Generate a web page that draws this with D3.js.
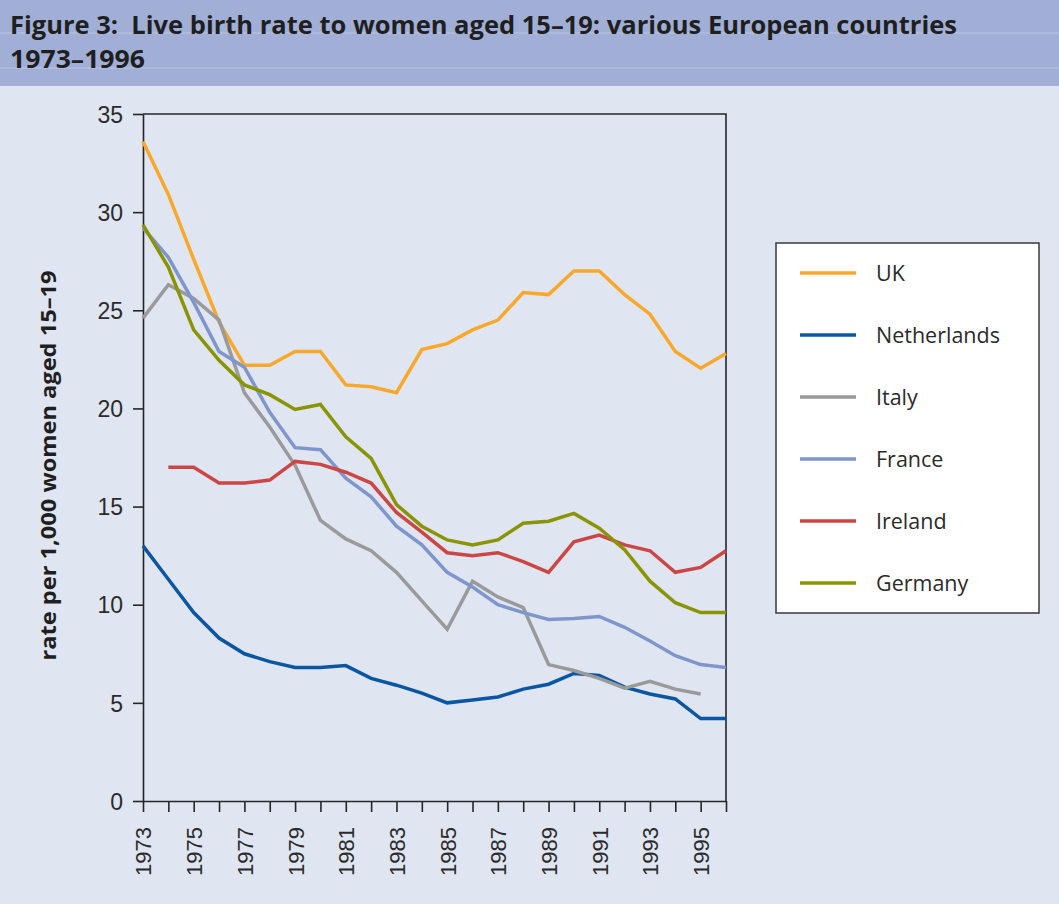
<!DOCTYPE html>
<html lang="en">
<head>
    <meta charset="UTF-8">
    <title>Figure 3: Live birth rate to women aged 15-19</title>
    <script src="https://d3js.org/d3.v7.min.js"></script>
    <style type="text/css">
        body { margin: 0; background: #dfe5f1; }
        svg { display: block; font-family: "Open Sans", "DejaVu Sans", sans-serif; }
        .tick text { fill: #2b2b2b; font-size: 23px; }
        .xaxis .tick text { font-size: 22px; }
        .tick line, .domain { stroke: #262626; stroke-width: 1.6px; }
    </style>
</head>
<body>
<script type="text/javascript">

    // values
    const years = d3.range(1973, 1997);
    const uk          = [33.6, 30.9, 27.6, 24.4, 22.2, 22.2, 22.9, 22.9, 21.2, 21.1, 20.8, 23.0, 23.3, 24.0, 24.5, 25.9, 25.8, 27.0, 27.0, 25.8, 24.8, 22.9, 22.05, 22.8];
    const netherlands = [13.0, 11.3, 9.6, 8.3, 7.5, 7.1, 6.8, 6.8, 6.9, 6.25, 5.9, 5.5, 5.0, 5.15, 5.3, 5.7, 5.95, 6.5, 6.4, 5.8, 5.45, 5.2, 4.2, 4.2];
    const italy       = [24.6, 26.3, 25.6, 24.5, 20.8, 19.05, 17.1, 14.3, 13.35, 12.75, 11.65, 10.2, 8.75, 11.2, 10.4, 9.85, 6.95, 6.65, 6.25, 5.75, 6.1, 5.7, 5.45, null];
    const france      = [29.2, 27.7, 25.4, 22.9, 22.1, 19.8, 18.0, 17.9, 16.45, 15.5, 14.0, 13.05, 11.65, 10.9, 10.0, 9.6, 9.25, 9.3, 9.4, 8.85, 8.15, 7.4, 6.95, 6.8];
    const ireland     = [null, 17.0, 17.0, 16.2, 16.2, 16.35, 17.3, 17.15, 16.75, 16.2, 14.7, 13.7, 12.65, 12.5, 12.65, 12.2, 11.65, 13.2, 13.55, 13.05, 12.75, 11.65, 11.9, 12.75];
    const germany     = [29.35, 27.2, 24.0, 22.45, 21.2, 20.7, 19.95, 20.2, 18.55, 17.45, 15.1, 14.0, 13.3, 13.05, 13.3, 14.15, 14.25, 14.65, 13.9, 12.8, 11.2, 10.1, 9.6, 9.6];

    const countries = ["UK", "Netherlands", "Italy", "France", "Ireland", "Germany"];
    const colours = ["#f9a82b", "#0b56a1", "#9a9a9a", "#7f96cc", "#cc4646", "#8a9300"];
    const values = [uk, netherlands, italy, france, ireland, germany];
    const yTicks = [0, 5, 10, 15, 20, 25, 30, 35];

    const width = 1059, height = 904;
    const svg = d3.select("body").append("svg")
        .attr("width", width)
        .attr("height", height);

    // title bar
    svg.append("rect")
        .attr("x", 0).attr("y", 0)
        .attr("width", width).attr("height", 86)
        .attr("fill", "#a1afd7");
    [33, 68].forEach(yy => svg.append("line")
        .attr("x1", 0).attr("x2", width)
        .attr("y1", yy).attr("y2", yy)
        .attr("stroke", "#b9c4e3").attr("stroke-width", 1));
    svg.append("text")
        .attr("x", 10).attr("y", 34)
        .attr("textLength", 947).attr("lengthAdjust", "spacingAndGlyphs")
        .style("font-size", "25px").style("font-weight", "bold").attr("fill", "#1f1f1f")
        .text("Figure 3:\u00a0 Live birth rate to women aged 15\u201319: various European countries");
    svg.append("text")
        .attr("x", 10).attr("y", 68)
        .attr("textLength", 135).attr("lengthAdjust", "spacingAndGlyphs")
        .style("font-size", "25px").style("font-weight", "bold").attr("fill", "#1f1f1f")
        .text("1973\u20131996");

    const x = d3.scaleLinear().domain([1973, 1996]).range([143, 726]);
    const y = d3.scaleLinear().domain([0, 35]).range([801, 114]);

    // frame top and right
    svg.append("path")
        .attr("d", `M${x(1973)},${y(35)}H${x(1996)}V${y(0)}`)
        .attr("fill", "none").attr("stroke", "#262626").attr("stroke-width", 1.6);

    svg.append("g")
        .attr("transform", `translate(${x(1973)},0)`)
        .call(d3.axisLeft(y).tickValues(yTicks).tickSize(10).tickSizeOuter(0).tickPadding(10))
        .call(g => g.selectAll(".tick text").attr("dy", "0.36em"));

    svg.append("g")
        .attr("class", "xaxis")
        .attr("transform", `translate(0,${y(0)})`)
        .call(d3.axisBottom(x).tickValues(years).tickSize(11).tickSizeOuter(0)
            .tickFormat(d => d % 2 === 1 ? d : ""))
        .call(g => g.selectAll(".tick text")
            .attr("transform", "rotate(-90)")
            .attr("text-anchor", "end")
            .attr("x", -26).attr("y", 0).attr("dy", "0.36em"));

    svg.append("text")
        .attr("transform", `translate(56,${(y(0) + y(35)) / 2 + 8}) rotate(-90)`)
        .attr("text-anchor", "middle")
        .attr("textLength", 390).attr("lengthAdjust", "spacingAndGlyphs")
        .style("font-size", "21px").style("font-weight", "bold").attr("fill", "#1f1f1f")
        .text("rate per 1,000 women aged 15\u201319");

    const line = d3.line()
        .defined(d => d.v !== null)
        .x(d => x(d.year))
        .y(d => y(d.v));

    values.forEach((vals, i) => {
        svg.append("path")
            .datum(years.map((yr, j) => ({ year: yr, v: vals[j] })))
            .attr("fill", "none")
            .attr("stroke", colours[i])
            .attr("stroke-width", 3.5)
            .attr("stroke-linejoin", "miter")
            .attr("d", line);
    });

    // legend
    const legend = svg.append("g");
    legend.append("rect")
        .attr("x", 776).attr("y", 243)
        .attr("width", 263).attr("height", 370)
        .attr("fill", "white").attr("stroke", "#3a3a3a").attr("stroke-width", 1.5);
    countries.forEach((c, i) => {
        const ly = 273 + i * 62;
        legend.append("line")
            .attr("x1", 800).attr("x2", 856)
            .attr("y1", ly).attr("y2", ly)
            .attr("stroke", colours[i]).attr("stroke-width", 3.5);
        legend.append("text")
            .attr("x", 876).attr("y", ly).attr("dy", "0.36em")
            .style("font-size", "21.5px").attr("fill", "#2b2b2b")
            .text(c);
    });

</script>
</body>
</html>
